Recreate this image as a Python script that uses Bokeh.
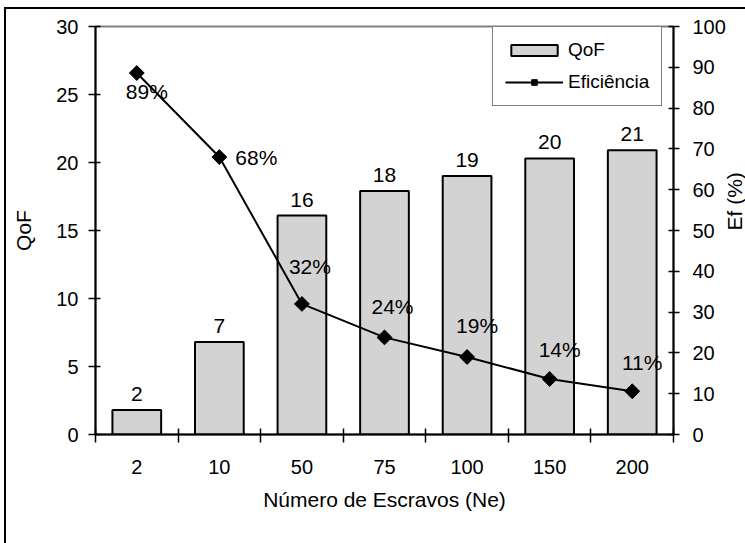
import math

from bokeh.plotting import figure
from bokeh.models import (Range1d, LinearAxis, FixedTicker, Legend, LegendItem,
                          ColumnDataSource)
from bokeh.embed import file_html
from bokeh.resources import INLINE
from bokeh.core.properties import value

# --- data -----------------------------------------------------------------
categories = ["2", "10", "50", "75", "100", "150", "200"]   # número de escravos (Ne)
qof = [1.8, 6.8, 16.1, 17.9, 19.0, 20.3, 20.9]               # QoF (left axis)
eficiencia = [88.6, 68.0, 32.0, 23.8, 19.0, 13.6, 10.6]      # Ef (%) (right axis)
qof_ticks = [0, 5, 10, 15, 20, 25, 30]
ef_ticks = [0, 10, 20, 30, 40, 50, 60, 70, 80, 90, 100]

# pixel offsets of the percentage labels relative to their points
ef_label_dx = [10, 37, 8, 8, 10, 10, 10]
ef_label_dy = [18, 0, -37, -31, -31, -29.5, -29]

FONT = "Liberation Sans"
n = len(categories)
xc = [i + 0.5 for i in range(n)]

src = ColumnDataSource(dict(
    x=xc,
    qof=qof,
    ef=eficiencia,
    qof_lbl=[f"{v:.0f}" for v in qof],
    ef_lbl=[f"{v:.0f}%" for v in eficiencia],
    dx=ef_label_dx,
    dy=ef_label_dy,
))

p = figure(frame_width=578, frame_height=408,
           output_backend="svg", toolbar_location=None,
           x_range=Range1d(0, n), y_range=Range1d(0, 30),
           x_axis_location=None, y_axis_location=None,
           min_border_left=95, min_border_right=72,
           min_border_top=26, min_border_bottom=109)
# page box: 745 px wide, chart-area border drawn on its left and top edges
p.styles = {
    "max-width": "745px",
    "overflow": "hidden",
    "background-color": "white",
    "box-shadow": "inset 4px 7px 0 0 white, inset 6px 9px 0 0 black",
}

p.extra_y_ranges = {"ef": Range1d(0, 100)}
p.xgrid.visible = False
p.ygrid.visible = False
p.background_fill_color = "white"
p.border_fill_alpha = 0
p.outline_line_color = "#808080"
p.outline_line_width = 2

# --- bars (QoF) -----------------------------------------------------------
bars = p.vbar(x="x", top="qof", width=0.59, source=src,
              fill_color="#d3d3d3", line_color="black", line_width=2)
p.text(x="x", y="qof", text="qof_lbl", source=src, y_offset=-16,
       text_align="center", text_baseline="alphabetic",
       text_font=value(FONT), text_font_size="21px", text_color="black")

# --- line (Eficiência) ----------------------------------------------------
line_r = p.line(x="x", y="ef", source=src, y_range_name="ef",
                line_color="black", line_width=2)
mark_r = p.scatter(x="x", y="ef", source=src, y_range_name="ef",
                   marker="square", size=10.5, angle=math.pi / 4,
                   fill_color="black", line_color="black")
p.text(x="x", y="ef", text="ef_lbl", source=src, y_range_name="ef",
       x_offset="dx", y_offset="dy",
       text_align="center", text_baseline="middle",
       text_font=value(FONT), text_font_size="21px", text_color="black")

# --- axes -----------------------------------------------------------------
def style_axis(ax):
    ax.axis_line_color = "black"
    ax.axis_line_width = 2
    ax.major_tick_line_color = "black"
    ax.major_tick_line_width = 1.5
    ax.major_label_text_font = FONT
    ax.major_label_text_font_size = "20px"
    ax.major_label_text_color = "black"
    ax.axis_label_text_font = FONT
    ax.axis_label_text_font_size = "21px"
    ax.axis_label_text_font_style = "normal"
    ax.axis_label_text_color = "black"

left = LinearAxis(ticker=FixedTicker(ticks=qof_ticks), axis_label="QoF")
style_axis(left)
left.major_tick_in = 5
left.major_tick_out = 7
left.major_label_standoff = 10
left.axis_label_standoff = 18
left.minor_tick_line_color = None
p.add_layout(left, "left")

right = LinearAxis(y_range_name="ef", ticker=FixedTicker(ticks=ef_ticks),
                   axis_label="Ef (%)")
style_axis(right)
right.major_tick_in = 5
right.major_tick_out = 6
right.major_label_standoff = 13
right.axis_label_standoff = 6
right.axis_label_orientation = math.pi / 2   # reads bottom-to-top
right.minor_tick_line_color = None
p.add_layout(right, "right")

bottom = LinearAxis(ticker=FixedTicker(ticks=xc, minor_ticks=list(range(n + 1))),
                    major_label_overrides={x: c for x, c in zip(xc, categories)},
                    axis_label="Número de Escravos (Ne)")
style_axis(bottom)
bottom.major_tick_in = 0
bottom.major_tick_out = 0
bottom.major_tick_line_color = None
bottom.minor_tick_line_color = "black"
bottom.minor_tick_line_width = 1.5
bottom.minor_tick_in = 6
bottom.minor_tick_out = 8
bottom.major_label_standoff = 17
bottom.axis_label_standoff = 11
p.add_layout(bottom, "below")

# --- legend ---------------------------------------------------------------
legend = Legend(items=[LegendItem(label="QoF", renderers=[bars]),
                       LegendItem(label="Eficiência", renderers=[line_r, mark_r])],
                location=(397, 328), orientation="vertical",
                glyph_width=58, glyph_height=14, label_standoff=5,
                padding=12, spacing=10, margin=0,
                label_text_font=FONT, label_text_font_size="19px",
                label_text_color="black",
                border_line_color="black", border_line_width=1.5,
                background_fill_color="white", background_fill_alpha=1)
p.add_layout(legend)

open("out.html", "w").write(file_html(p, INLINE))
